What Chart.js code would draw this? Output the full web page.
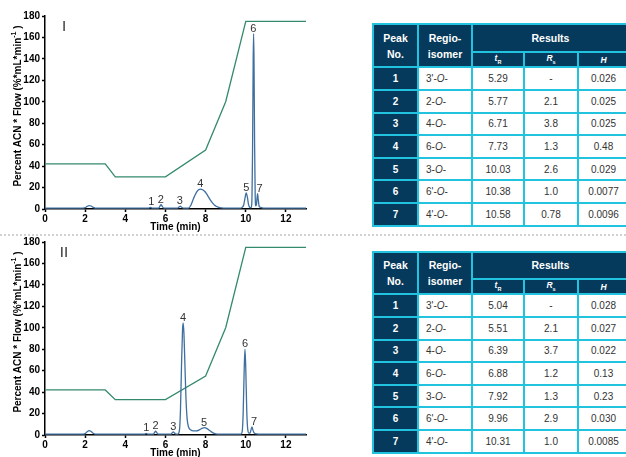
<!DOCTYPE html>
<html>
<head>
<meta charset="utf-8">
<script src="https://cdn.jsdelivr.net/npm/chart.js@4.4.1/dist/chart.umd.min.js"></script>
<style>
  html, body { margin: 0; padding: 0; background: #fff; }
  body { width: 626px; height: 457px; overflow: hidden; position: relative; font-family: "Liberation Sans", Arial, sans-serif; }
  .panel { position: absolute; left: 0; width: 310px; height: 232px; }
  .sep { position: absolute; left: 0; top: 234px; width: 626px; border-top: 2px dotted #d2d2d2; }
  table.res { position: absolute; left: 372px; border-collapse: collapse; table-layout: fixed; width: 256px; font-size: 10px; color: #333; }
  table.res td, table.res th { border: 2px solid #22c3de; padding: 0; text-align: center; }
  table.res th { background: #053a5c; color: #fff; font-weight: bold; font-size: 10.5px; line-height: 16px; }
  table.res th.sub { font-size: 8.5px; font-style: italic; line-height: 10px; }
  table.res th.sub sub { font-size: 5.5px; font-style: normal; }
  table.res td.pk { background: #053a5c; color: #fff; font-weight: bold; }
  table.res td.iso { text-align: left; padding-left: 7px; }
  table.res tr.row { height: 22.6px; }
</style>
</head>
<body>
<div class="sep"></div>
<div class="panel" style="top:0px"><canvas id="chartI" width="310" height="232"></canvas></div>
<div class="panel" style="top:226px"><canvas id="chartII" width="310" height="232"></canvas></div>
<table class="res" id="tableI" style="top:23px"></table>
<table class="res" id="tableII" style="top:251px"></table>

<script>
// ---- gradient (green line) ----
const gradTimeI = [0, 3, 3.5, 6, 8, 9, 10, 13];
const gradValueI = [42, 42, 30, 30, 55, 100, 175, 175];
const gradTimeII = [0, 3, 3.5, 6, 8, 9, 10, 13];
const gradValueII = [42, 42, 33, 33, 55, 100, 175, 175];

// ---- chromatogram I ----
const timeI = [0, 1.9, 2.0, 2.1, 2.2, 2.3, 2.4, 2.5, 2.6,
  5.15, 5.25, 5.35, 5.65, 5.72, 5.78, 5.84, 5.92,
  6.6, 6.68, 6.74, 6.8, 6.9,
  7.15, 7.25, 7.35, 7.45, 7.55, 7.65, 7.75, 7.85, 7.95, 8.05, 8.15, 8.25, 8.35, 8.45, 8.55, 8.7, 8.9,
  9.7, 9.82, 9.9, 9.96, 10.02, 10.08, 10.14, 10.2, 10.26,
  10.3, 10.34, 10.37, 10.39, 10.41, 10.44, 10.47, 10.5,
  10.53, 10.56, 10.59, 10.62, 10.66, 10.72, 10.82, 10.95, 13];
const signalI = [0.8, 0.8, 1.2, 2.5, 3.2, 2.8, 1.5, 0.9, 0.8,
  0.8, 1.6, 0.8, 0.8, 2.5, 4.0, 2.5, 0.8,
  0.8, 2.0, 2.6, 1.8, 0.8,
  0.8, 3, 7.5, 12, 15.8, 18, 18.6, 18, 16.5, 14, 11, 8, 5.5, 3.5, 2.3, 1.3, 0.9,
  0.8, 1.5, 4, 10, 14.9, 11, 4, 1.5, 1.2,
  5, 60, 140, 163.6, 140, 60, 12, 3,
  4, 10, 14.2, 9, 3, 1.6, 1.1, 0.9, 0.8];

// ---- chromatogram II ----
const timeII = [0, 1.9, 2.0, 2.1, 2.2, 2.3, 2.4, 2.5, 2.6,
  4.95, 5.04, 5.13, 5.4, 5.46, 5.51, 5.56, 5.64,
  6.28, 6.34, 6.39, 6.44, 6.52,
  6.62, 6.7, 6.75, 6.8, 6.85, 6.88, 6.92, 6.97, 7.02, 7.08, 7.15, 7.25, 7.4, 7.55, 7.7, 7.85, 7.95, 8.05, 8.2, 8.35, 8.5, 8.7,
  9.75, 9.82, 9.87, 9.92, 9.96, 10.0, 10.05, 10.1, 10.16,
  10.22, 10.27, 10.31, 10.35, 10.42, 10.55, 10.7, 13];
const signalII = [0.8, 0.8, 1.3, 3, 4, 3.2, 1.6, 0.9, 0.8,
  0.8, 1.6, 0.8, 0.8, 2.4, 3.6, 2.4, 0.8,
  0.8, 2.2, 3.0, 2.2, 0.8,
  0.9, 5, 25, 65, 98, 104.6, 95, 65, 35, 15, 7.5, 4.8, 3.8, 3.8, 5, 6.5, 6.8, 6.2, 4.2, 2.2, 1.1, 0.8,
  0.8, 3, 20, 60, 80, 62, 22, 5, 1.8,
  2, 5.5, 7.5, 5, 1.8, 1, 0.8, 0.8];

// ---- peak tops (for the numbers above the peaks) ----
const peakTopI = [1.6, 4.0, 2.6, 18.6, 14.9, 163.6, 14.2];
const peakTopII = [1.6, 3.6, 3.0, 104.6, 6.8, 80, 7.5];

// ---- tables ----
const peakNo = [1, 2, 3, 4, 5, 6, 7];
const isomers = ["3'", "2", "4", "6", "3", "6'", "4'"];
const tRI = [5.29, 5.77, 6.71, 7.73, 10.03, 10.38, 10.58];
const RsI = ['-', '2.1', '3.8', '1.3', '2.6', '1.0', '0.78'];
const HI = ['0.026', '0.025', '0.025', '0.48', '0.029', '0.0077', '0.0096'];
const tRII = [5.04, 5.51, 6.39, 6.88, 7.92, 9.96, 10.31];
const RsII = ['-', '2.1', '3.7', '1.2', '1.3', '2.9', '1.0'];
const HII = ['0.028', '0.027', '0.022', '0.13', '0.23', '0.030', '0.0085'];

const FONT = '"Liberation Sans", Arial, sans-serif';

function buildTable(id, tR, Rs, H, headH) {
	let html = '<colgroup><col style="width:45px"><col style="width:54px"><col style="width:52px"><col style="width:54px"><col style="width:51px"></colgroup>';
	html += '<tr style="height:' + headH + 'px"><th rowspan="2">Peak<br>No.</th><th rowspan="2">Regio-<br>isomer</th><th colspan="3">Results</th></tr>';
	html += '<tr style="height:14.6px"><th class="sub">t<sub>R</sub></th><th class="sub">R<sub>s</sub></th><th class="sub">H</th></tr>';
	peakNo.forEach(function(n, i) {
		html += '<tr class="row"><td class="pk">' + n + '</td><td class="iso">' + isomers[i] + '-<i>O</i>-</td>' +
			'<td>' + tR[i].toFixed(2) + '</td><td>' + Rs[i] + '</td><td>' + H[i] + '</td></tr>';
	});
	document.getElementById(id).innerHTML = html;
}
buildTable('tableI', tRI, RsI, HI, 27.7);
buildTable('tableII', tRII, RsII, HII, 26.7);

// 숫자 라벨, 패널 번호, y축 제목
const chartText = {
	id: 'chartText',
	afterDatasetsDraw(chart, args, opts) {
		const ctx = chart.ctx;
		const x = chart.scales.x, y = chart.scales.y;
		const last = opts.peakTime.length - 1;
		ctx.save();
		ctx.fillStyle = '#333';
		ctx.font = '11px ' + FONT;
		ctx.textBaseline = 'alphabetic';
		opts.peakTime.forEach(function(t, i) {
			const px = x.getPixelForValue(t);
			const py = y.getPixelForValue(opts.peakTop[i]) - 2;
			ctx.textAlign = i === last ? 'left' : 'center';
			ctx.fillText(String(peakNo[i]), i === last ? px - 1 : px, py);
		});
		ctx.font = '15px ' + FONT;
		ctx.textAlign = 'center';
		ctx.textBaseline = 'middle';
		ctx.fillText(opts.panel, 64, 27);

		// y title with superscript
		ctx.fillStyle = '#000';
		const main = 'Percent ACN * Flow (%*mL*min', sup = '-1', tail = ' )';
		ctx.font = 'bold 10px ' + FONT;
		const w1 = ctx.measureText(main).width, w3 = ctx.measureText(tail).width;
		ctx.font = 'bold 7px ' + FONT;
		const w2 = ctx.measureText(sup).width;
		let sx = -(w1 + w2 + w3) / 2;
		ctx.translate(18, 106);
		ctx.rotate(-Math.PI / 2);
		ctx.textAlign = 'left';
		ctx.font = 'bold 10px ' + FONT;
		ctx.fillText(main, sx, 0);
		ctx.font = 'bold 7px ' + FONT;
		ctx.fillText(sup, sx + w1, -4);
		ctx.font = 'bold 10px ' + FONT;
		ctx.fillText(tail, sx + w1 + w2, 0);
		ctx.restore();
	}
};

function toPoints(xs, ys) {
	return xs.map(function(v, i) { return {x: v, y: ys[i]}; });
}

function makeChart(id, panel, time, signal, gTime, gValue, tR, peakTop) {
	new Chart(document.getElementById(id), {
		type: 'line',
		data: {
			datasets: [{
				data: toPoints(time, signal),
				borderColor: '#3f6f9f',
				borderWidth: 1.3,
				pointRadius: 0,
				cubicInterpolationMode: 'monotone'
			}, {
				data: toPoints(gTime, gValue),
				borderColor: '#348a6c',
				borderWidth: 1.3,
				pointRadius: 0,
				tension: 0
			}]
		},
		options: {
			responsive: false,
			animation: false,
			devicePixelRatio: 1,
			layout: { padding: { top: 16, right: 4, left: 0, bottom: 0 } },
			plugins: {
				legend: { display: false },
				tooltip: { enabled: false },
				chartText: { panel: panel, peakTime: tR, peakTop: peakTop }
			},
			scales: {
				x: {
					type: 'linear',
					min: 0,
					max: 13,
					afterFit: function(s) { s.height = 23; },
					afterBuildTicks: function(s) { s.ticks = s.ticks.filter(function(t) { return t.value % 2 === 0; }); },
					ticks: { stepSize: 2, color: '#000', padding: 2, maxRotation: 0, font: { family: FONT, size: 10, weight: 'bold', lineHeight: 1 } },
					grid: { drawOnChartArea: false, tickLength: 3, tickWidth: 1.5, tickColor: '#000' },
					border: { color: '#000', width: 1.5 },
					title: { display: true, text: 'Time (min)', color: '#000', padding: 0, font: { family: FONT, size: 10, weight: 'bold', lineHeight: 1 } }
				},
				y: {
					min: 0,
					max: 180,
					afterFit: function(s) { s.width = 45; },
					ticks: { stepSize: 20, color: '#000', padding: 2, font: { family: FONT, size: 10, weight: 'bold' } },
					grid: { drawOnChartArea: false, tickLength: 3, tickWidth: 1.5, tickColor: '#000' },
					border: { color: '#000', width: 1.5 }
				}
			}
		},
		plugins: [chartText]
	});
}

makeChart('chartI', 'I', timeI, signalI, gradTimeI, gradValueI, tRI, peakTopI);
makeChart('chartII', 'II', timeII, signalII, gradTimeII, gradValueII, tRII, peakTopII);
</script>
</body>
</html>
